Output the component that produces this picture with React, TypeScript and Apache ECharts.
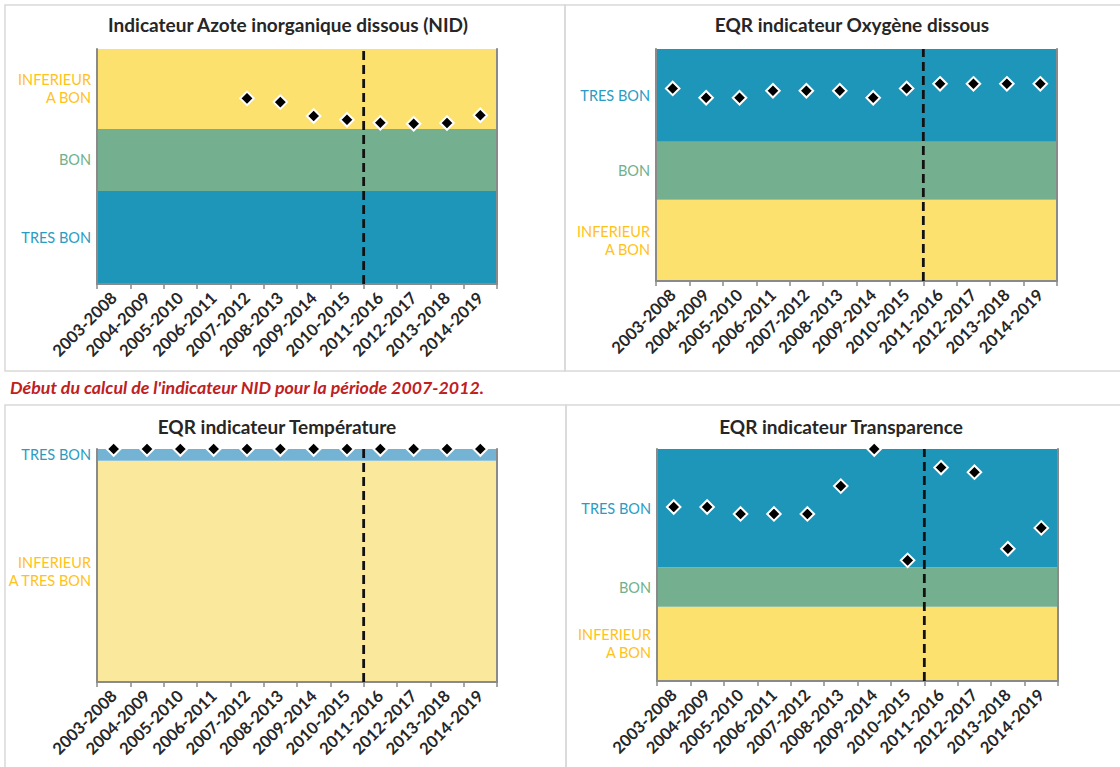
import React, { useEffect, useRef } from "react";
import * as echarts from "echarts";

const categories = [
  "2003-2008", "2004-2009", "2005-2010", "2006-2011", "2007-2012", "2008-2013",
  "2009-2014", "2010-2015", "2011-2016", "2012-2017", "2013-2018", "2014-2019",
];

const nidValues = [null, null, null, null, 79.0, 77.4, 71.5, 69.9, 68.6, 68.2, 68.5, 71.8];
const oxyValues = [0.83, 0.79, 0.79, 0.82, 0.82, 0.82, 0.79, 0.83, 0.85, 0.85, 0.85, 0.85];
const tempValues = [1, 1, 1, 1, 1, 1, 1, 1, 1, 1, 1, 1];
const transValues = [0.75, 0.75, 0.72, 0.72, 0.72, 0.84, 1.0, 0.52, 0.92, 0.9, 0.57, 0.66];

const titles = [
  "Indicateur Azote inorganique dissous (NID)",
  "EQR indicateur Oxygène dissous",
  "EQR indicateur Température",
  "EQR indicateur Transparence",
];
const note = "Début du calcul de l'indicateur NID pour la période 2007-2012.";

// status bands: [from, to, label, kind]
const nidBands = [
  [0, 39.6, "TRES BON", "blue"],
  [39.6, 66, "BON", "green"],
  [66, 100, "INFERIEUR\nA BON", "yellow"],
];
const oxyBands = [
  [0, 0.35, "INFERIEUR\nA BON", "yellow"],
  [0.35, 0.6, "BON", "green"],
  [0.6, 1, "TRES BON", "blue"],
];
const tempBands = [
  [0, 0.95, "INFERIEUR\nA TRES BON", "paleYellow"],
  [0.95, 1, "TRES BON", "paleBlue"],
];
const transBands = [
  [0, 0.32, "INFERIEUR\nA BON", "yellow"],
  [0.32, 0.49, "BON", "green"],
  [0.49, 1, "TRES BON", "blue"],
];

const axisRanges = [
  [0, 100],
  [0, 1],
  [0, 1],
  [0, 1],
];
const dividerIndex = 8;

const FONT = "Lato, 'Open Sans', sans-serif";
const fills: Record<string, string> = {
  blue: "#1E96BA",
  green: "#74B08F",
  yellow: "#FCE16F",
  paleBlue: "#74B3D4",
  paleYellow: "#FAE89C",
};
const labelColors: Record<string, string> = {
  blue: "#2A9CC3",
  green: "#70B08C",
  yellow: "#FFC21A",
  paleBlue: "#2A9CC3",
  paleYellow: "#FFC21A",
};

const grids = [
  { left: 97, top: 49, width: 400, height: 235 },
  { left: 656, top: 49, width: 401, height: 232 },
  { left: 97, top: 449, width: 400, height: 233 },
  { left: 657, top: 449, width: 401, height: 232 },
];
const titlePos = [
  [288, 27],
  [852, 27],
  [277, 429],
  [841, 429],
];

export default function App() {
  const ref = useRef<HTMLDivElement>(null);
  useEffect(() => {
    if (!ref.current) return;
    const chart = echarts.init(ref.current, undefined, { renderer: "svg" });
    const values = [nidValues, oxyValues, tempValues, transValues];
    const bands = [nidBands, oxyBands, tempBands, transBands];
    const border = { show: true, lineStyle: { color: "#8a8a8a", width: 2 } };

    const xAxis: any[] = [];
    const yAxis: any[] = [];
    const series: any[] = [];
    grids.forEach((g, i) => {
      const [mn, mx] = axisRanges[i];
      xAxis.push({
        type: "category",
        gridIndex: i,
        data: categories,
        z: 10,
        boundaryGap: true,
        axisLine: border,
        axisTick: { show: true, length: 5, lineStyle: { color: "#8a8a8a", width: 1.5 } },
        axisLabel: {
          rotate: 45,
          interval: 0,
          margin: 11,
          color: "#262626",
          fontFamily: FONT,
          fontWeight: "bold",
          fontSize: 16.5,
        },
        splitLine: { show: false },
      });
      xAxis.push({
        type: "value",
        gridIndex: i,
        min: 0,
        max: categories.length,
        position: "top",
        z: 10,
        axisLine: border,
        axisTick: { show: false },
        axisLabel: { show: false },
        splitLine: { show: false },
      });
      yAxis.push({
        type: "value",
        gridIndex: i,
        min: mn,
        max: mx,
        z: 10,
        axisLine: border,
        axisTick: { show: false },
        axisLabel: { show: false },
        splitLine: { show: false },
      });
      yAxis.push({
        type: "value",
        gridIndex: i,
        min: mn,
        max: mx,
        position: "right",
        z: 10,
        axisLine: border,
        axisTick: { show: false },
        axisLabel: { show: false },
        splitLine: { show: false },
      });
      series.push({
        type: "line",
        xAxisIndex: 2 * i + 1,
        yAxisIndex: 2 * i,
        data: [
          [dividerIndex, mn],
          [dividerIndex, mx],
        ],
        symbol: "none",
        z: 15,
        silent: true,
        lineStyle: { color: "#111", width: 2.8, type: [9, 5] },
        markArea: {
          silent: true,
          z: 1,
          data: (bands[i] as any[]).map((b) => [
            {
              name: b[2],
              yAxis: b[0],
              itemStyle: { color: fills[b[3]], opacity: 1 },
              label: {
                show: true,
                position: "left",
                distance: 6,
                color: labelColors[b[3]],
                fontFamily: FONT,
                fontSize: 14.5,
                lineHeight: 18,
              },
            },
            { yAxis: b[1] },
          ]),
        },
      });
      series.push({
        type: "scatter",
        xAxisIndex: 2 * i,
        yAxisIndex: 2 * i,
        data: values[i],
        symbol: "diamond",
        symbolSize: 13.5,
        z: 20,
        itemStyle: { color: "#000", borderColor: "#fff", borderWidth: 2, opacity: 1 },
      });
    });

    const panelStyle = { fill: "none", stroke: "#d9d9d9", lineWidth: 1.5 };
    chart.setOption({
      animation: false,
      backgroundColor: "#fff",
      title: titles.map((t, i) => ({
        text: t,
        left: titlePos[i][0],
        top: titlePos[i][1] - 12,
        textAlign: "center",
        padding: 0,
        textStyle: { fontFamily: FONT, fontWeight: "bold", fontSize: 19, color: "#262626" },
      })),
      grid: grids.map((g) => ({ ...g, containLabel: false })),
      xAxis,
      yAxis,
      series,
      graphic: [
        { type: "rect", shape: { x: 5, y: 5, width: 560, height: 366 }, style: panelStyle, silent: true },
        { type: "rect", shape: { x: 565, y: 5, width: 600, height: 366 }, style: panelStyle, silent: true },
        { type: "rect", shape: { x: 5, y: 405, width: 561, height: 400 }, style: panelStyle, silent: true },
        { type: "rect", shape: { x: 566, y: 405, width: 600, height: 400 }, style: panelStyle, silent: true },
        {
          type: "text",
          x: 10,
          y: 387,
          style: {
            text: note,
            fill: "#C0201E",
            font: `italic bold 17.8px ${FONT}`,
            verticalAlign: "middle",
          },
        },
      ],
    });
    return () => chart.dispose();
  }, []);
  return (
    <div
      ref={ref}
      style={{ position: "fixed", left: 0, top: 0, width: 1120, height: 767, background: "#fff" }}
    />
  );
}
